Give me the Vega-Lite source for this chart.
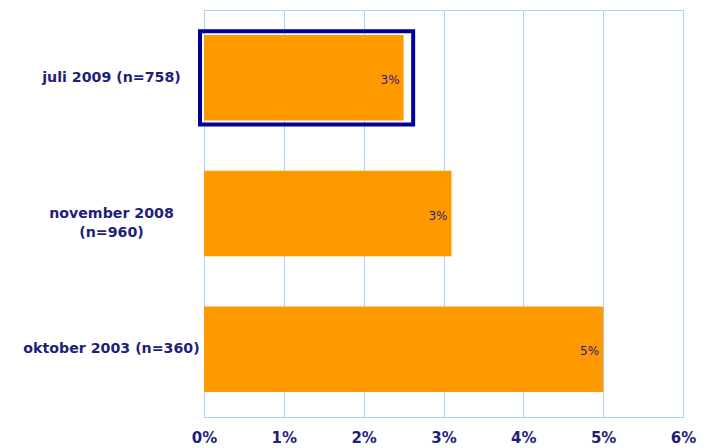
{
  "$schema": "https://vega.github.io/schema/vega-lite/v6.json",
  "width": 479,
  "height": 407,
  "autosize": {"type": "none"},
  "padding": {"left": 204, "top": 10, "right": 25, "bottom": 31},
  "background": "white",
  "config": {
    "view": {"stroke": "#a8d0f8", "strokeWidth": 1},
    "font": "DejaVu Sans"
  },
  "datasets": {
    "main": [
      {"periode": "juli 2009 (n=758)", "andel": 0.025, "etikett": "3%"},
      {"periode": "november 2008 (n=960)", "andel": 0.031, "etikett": "3%"},
      {"periode": "oktober 2003 (n=360)", "andel": 0.05, "etikett": "5%"}
    ],
    "markering": [
      {"periode": "juli 2009 (n=758)", "fra": -0.0005, "til": 0.0262}
    ]
  },
  "encoding": {
    "y": {
      "field": "periode",
      "type": "nominal",
      "sort": ["juli 2009 (n=758)", "november 2008 (n=960)", "oktober 2003 (n=360)"],
      "scale": {"paddingInner": 0.37, "paddingOuter": 0.185},
      "axis": {
        "title": null,
        "domain": false,
        "ticks": false,
        "grid": false,
        "labelAlign": "center",
        "labelPadding": 93,
        "labelLimit": 0,
        "labelFont": "DejaVu Sans",
        "labelFontWeight": "bold",
        "labelFontSize": 14.2,
        "labelColor": "#1f1f7a",
        "labelLineHeight": 19,
        "labelExpr": "datum.label == 'november 2008 (n=960)' ? ['november 2008', '(n=960)'] : datum.label"
      }
    }
  },
  "layer": [
    {
      "data": {"name": "main"},
      "mark": {"type": "bar", "color": "#ff9900"},
      "encoding": {
        "x": {
          "field": "andel",
          "type": "quantitative",
          "scale": {"domain": [0, 0.06], "nice": false},
          "axis": {
            "title": null,
            "format": ".0%",
            "values": [0, 0.01, 0.02, 0.03, 0.04, 0.05, 0.06],
            "labelOverlap": false,
            "labelFlush": false,
            "domain": false,
            "ticks": false,
            "grid": true,
            "gridColor": "#a8d0f8",
            "gridOpacity": 1,
            "gridWidth": 1,
            "labelPadding": 13,
            "labelFont": "DejaVu Sans",
            "labelFontWeight": "bold",
            "labelFontSize": 15,
            "labelColor": "#1f1f7a"
          }
        }
      }
    },
    {
      "data": {"name": "markering"},
      "mark": {"type": "bar", "fill": null, "fillOpacity": 0, "stroke": "#000099", "strokeWidth": 4, "height": {"band": 1.09}},
      "encoding": {
        "x": {"field": "fra", "type": "quantitative"},
        "x2": {"field": "til"}
      }
    },
    {
      "data": {"name": "main"},
      "mark": {"type": "text", "align": "right", "dx": -4, "dy": 2, "fontSize": 12, "color": "#1f1f7a"},
      "encoding": {
        "x": {"field": "andel", "type": "quantitative"},
        "text": {"field": "etikett"}
      }
    }
  ]
}
